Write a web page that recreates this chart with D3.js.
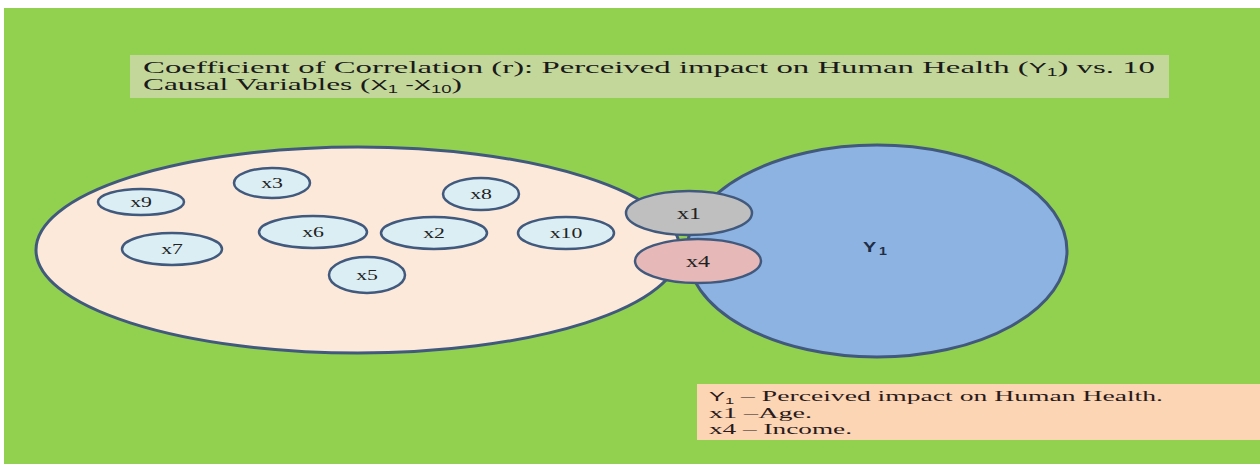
<!DOCTYPE html>
<html>
<head>
<meta charset="utf-8">
<script src="https://cdn.jsdelivr.net/npm/d3@7"></script>
<style>
  body { margin: 0; background: #fff; }
  svg { display: block; }
</style>
</head>
<body>
<svg id="svg"></svg>
<script>
// variables causales (cercle de gauche) et leurs places dans le schéma
var causalVars = ["x9", "x3", "x7", "x6", "x8", "x2", "x10", "x5"];
var causalCx = [141, 272, 172, 313, 481, 434, 566, 367];
var causalCy = [202, 183, 249, 232, 194, 233, 233, 275];
var causalRx = [43, 38, 50, 54, 38, 53, 48, 38];
var causalRy = [13, 15, 16, 16, 16, 16, 16, 18];

// variables correlées avec Y1
var linkedVars = ["x1", "x4"];
var linkedColors = ["#bfbfbf", "#e6b9b8"];

// légende
var legendKeys = ["Y", "x1", "x4"];
var legendTexts = ["Perceived impact on Human Health.", "Age.", "Income."];

var W = 1260, H = 466;
var stroke = "#41597c";
var serif = "'Liberation Serif', 'Times New Roman', serif";
var sans = "'Liberation Sans', Arial, sans-serif";

var canevas = d3.select("#svg").attr("width", W).attr("height", H);

// l'image d'origine est étirée en largeur : on étire le texte pareil
function stretch(t, k){
  var w = t.node().getComputedTextLength();
  t.attr("textLength", w * k).attr("lengthAdjust", "spacingAndGlyphs");
}

// fond vert
canevas.append("rect")
  .attr("x", 4).attr("y", 8).attr("width", W - 4).attr("height", 456)
  .attr("fill", "#92d050");

// titre
canevas.append("rect")
  .attr("x", 130).attr("y", 55).attr("width", 1039).attr("height", 43)
  .attr("fill", "#c4d79b");

var t1 = canevas.append("text")
  .attr("x", 143).attr("y", 73)
  .attr("font-family", serif).attr("font-size", "17px").attr("fill", "#1a1a1a");
t1.append("tspan").text("Coefficient  of  Correlation  (r):  Perceived  impact  on  Human  Health  (");
t1.append("tspan").attr("font-family", sans).attr("font-size", "14px").text("Y");
t1.append("tspan").attr("font-family", sans).attr("font-size", "10px").attr("dy", 3).text("1");
t1.append("tspan").attr("dy", -3).text(")  vs.  10");
t1.attr("textLength", 1012).attr("lengthAdjust", "spacingAndGlyphs");

var t2 = canevas.append("text")
  .attr("x", 143).attr("y", 90)
  .attr("font-family", serif).attr("font-size", "17px").attr("fill", "#1a1a1a");
t2.append("tspan").text("Causal  Variables  (");
t2.append("tspan").attr("font-family", sans).attr("font-size", "14px").text("X");
t2.append("tspan").attr("font-family", sans).attr("font-size", "10px").attr("dy", 3).text("1");
t2.append("tspan").attr("dy", -3).attr("font-family", sans).attr("font-size", "14px").text(" -X");
t2.append("tspan").attr("font-family", sans).attr("font-size", "10px").attr("dy", 3).text("10");
t2.append("tspan").attr("dy", -3).text(")");
t2.attr("textLength", 319).attr("lengthAdjust", "spacingAndGlyphs");

// grand ellipse des variables causales
canevas.append("ellipse")
  .attr("cx", 358).attr("cy", 250).attr("rx", 322).attr("ry", 103)
  .attr("fill", "#fde9d9").attr("stroke", stroke).attr("stroke-width", 3);

// cercle Y1
canevas.append("ellipse")
  .attr("cx", 877).attr("cy", 251).attr("rx", 190).attr("ry", 106)
  .attr("fill", "#8db3e2").attr("stroke", stroke).attr("stroke-width", 3);

var y1 = canevas.append("text")
  .attr("x", 863).attr("y", 252)
  .attr("font-family", sans).attr("font-size", "14px").attr("font-weight", "bold")
  .attr("fill", "#1f2d45");
y1.append("tspan").text("Y");
y1.append("tspan").attr("font-size", "10px").attr("dx", 2).attr("dy", 3).text("1");
y1.attr("textLength", 24).attr("lengthAdjust", "spacingAndGlyphs");

// petites ellipses
var g = canevas.selectAll("g.var")
  .data(causalVars)
  .enter()
  .append("g").attr("class", "var");

g.append("ellipse")
  .attr("cx", function(d, i){ return causalCx[i]; })
  .attr("cy", function(d, i){ return causalCy[i]; })
  .attr("rx", function(d, i){ return causalRx[i]; })
  .attr("ry", function(d, i){ return causalRy[i]; })
  .attr("fill", "#dbeef4").attr("stroke", stroke).attr("stroke-width", 2.5);

g.append("text")
  .text(function(d){ return d; })
  .attr("x", function(d, i){ return causalCx[i]; })
  .attr("y", function(d, i){ return causalCy[i] + 5; })
  .attr("text-anchor", "middle")
  .attr("font-family", serif).attr("font-size", "15px").attr("fill", "#222")
  .each(function(){ stretch(d3.select(this), 1.45); });

// x1 et x4
var linkedCx = [689, 698], linkedCy = [213, 261];
var gl = canevas.selectAll("g.linked")
  .data(linkedVars)
  .enter()
  .append("g").attr("class", "linked");

gl.append("ellipse")
  .attr("cx", function(d, i){ return linkedCx[i]; })
  .attr("cy", function(d, i){ return linkedCy[i]; })
  .attr("rx", 63).attr("ry", 22)
  .attr("fill", function(d, i){ return linkedColors[i]; })
  .attr("stroke", stroke).attr("stroke-width", 2.5);

gl.append("text")
  .text(function(d){ return d; })
  .attr("x", function(d, i){ return linkedCx[i]; })
  .attr("y", function(d, i){ return linkedCy[i] + 6; })
  .attr("text-anchor", "middle")
  .attr("font-family", serif).attr("font-size", "16px").attr("fill", "#222")
  .each(function(){ stretch(d3.select(this), 1.5); });

// légende
canevas.append("rect")
  .attr("x", 697).attr("y", 384).attr("width", W - 697).attr("height", 56)
  .attr("fill", "#fcd5b5");

var legendWidths = [454, 103, 143];
legendKeys.forEach(function(k, i){
  var t = canevas.append("text")
    .attr("x", 709).attr("y", 401 + i * 16.5)
    .attr("font-family", serif).attr("font-size", "15px").attr("fill", "#2a1a1a");
  if (k == "Y"){
    t.append("tspan").attr("font-family", sans).attr("font-size", "13px").text("Y");
    t.append("tspan").attr("font-family", sans).attr("font-size", "9px").attr("dy", 3).text("1");
    t.append("tspan").attr("dy", -3).text(" \u2013 " + legendTexts[i]);
  }
  else {
    t.text(k + " \u2013" + (i == 1 ? "" : " ") + legendTexts[i]);
  }
  t.attr("textLength", legendWidths[i]).attr("lengthAdjust", "spacingAndGlyphs");
});
</script>
</body>
</html>
